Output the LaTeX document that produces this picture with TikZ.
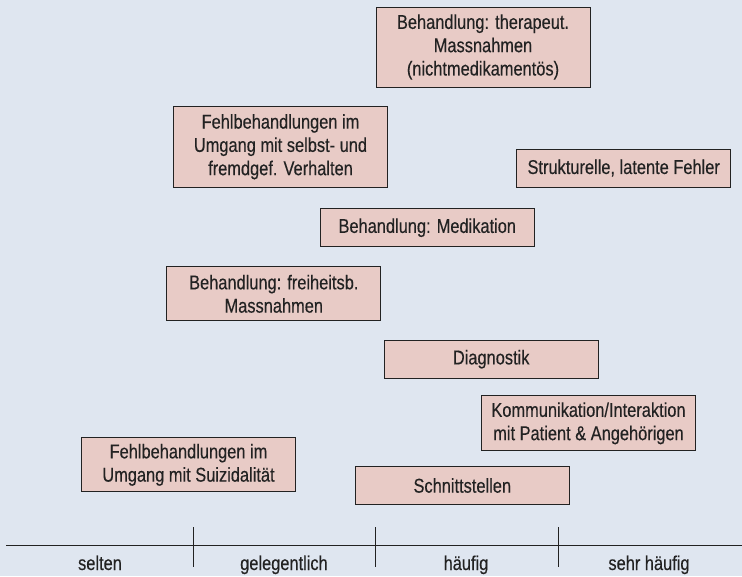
\documentclass[tikz,border=0pt]{standalone}
\usepackage{fontspec}
\setmainfont{Liberation Sans}[FakeStretch=0.82,FakeBold=0.3]
\usepackage{tikz}
\definecolor{bgblue}{HTML}{DFE6F0}
\definecolor{boxrose}{HTML}{E8CBC6}
\definecolor{inkgrey}{HTML}{222222}

\begin{document}
\begin{tikzpicture}
[x=1pt,y=-1pt,every node/.style={font=\fontsize{20}{23.3}\selectfont,text=inkgrey},
 errbox/.style={draw=inkgrey,line width=1pt,fill=boxrose,minimum width=214pt,align=center,inner sep=0pt},
 axis/.style={draw=inkgrey,line width=1pt}]
  \fill[bgblue] (0,0) rectangle (742,576);
  \useasboundingbox (0,0) rectangle (742,576);
  \node[errbox,minimum height=80pt] (therap) at (483,47)   {Behandlung: therapeut.\\Massnahmen\\(nichtmedikamentös)};
  \node[errbox,minimum height=81pt] (selbst) at (280.5,146.7) {Fehlbehandlungen im\\Umgang mit selbst- und\\fremdgef. Verhalten};
  \node[errbox,minimum height=38pt] (strukt) at (623.7,168)  {Strukturelle, latente Fehler};
  \node[errbox,minimum height=38pt] (medik)  at (427.3,227.7) {Behandlung: Medikation};
  \node[errbox,minimum height=54pt] (freih)  at (273.8,293.8) {Behandlung: freiheitsb.\\Massnahmen};
  \node[errbox,minimum height=38pt] (diagn)  at (491.2,359.2) {Diagnostik};
  \node[errbox,minimum height=55pt] (komm)   at (588.5,423.3) {Kommunikation/Interaktion\\mit Patient \& Angehörigen};
  \node[errbox,minimum height=54pt] (suizid) at (188.5,464.8) {Fehlbehandlungen im\\Umgang mit Suizidalität};
  \node[errbox,minimum height=38pt] (schnitt) at (462.3,485.5) {Schnittstellen};

  % Haeufigkeitsachse
  \coordinate (axl) at (6,545);
  \coordinate (axr) at (742,545);
  \draw[axis] (axl) -- (axr);
  \foreach \t/\xx in {ta/193, tb/375, tc/558}
  {
    \coordinate (\t top) at (\xx,527);
    \coordinate (\t bot) at (\xx,567);
    \draw[axis] (\t top) -- (\t bot);
  }
  \foreach \n/\xx/\txt in {lselt/100/selten, lgel/284/gelegentlich, lhaeuf/466/häufig, lsehr/649/sehr häufig}
    \node[anchor=base] (\n) at (\xx,570) {\txt};

\end{tikzpicture}
\end{document}
